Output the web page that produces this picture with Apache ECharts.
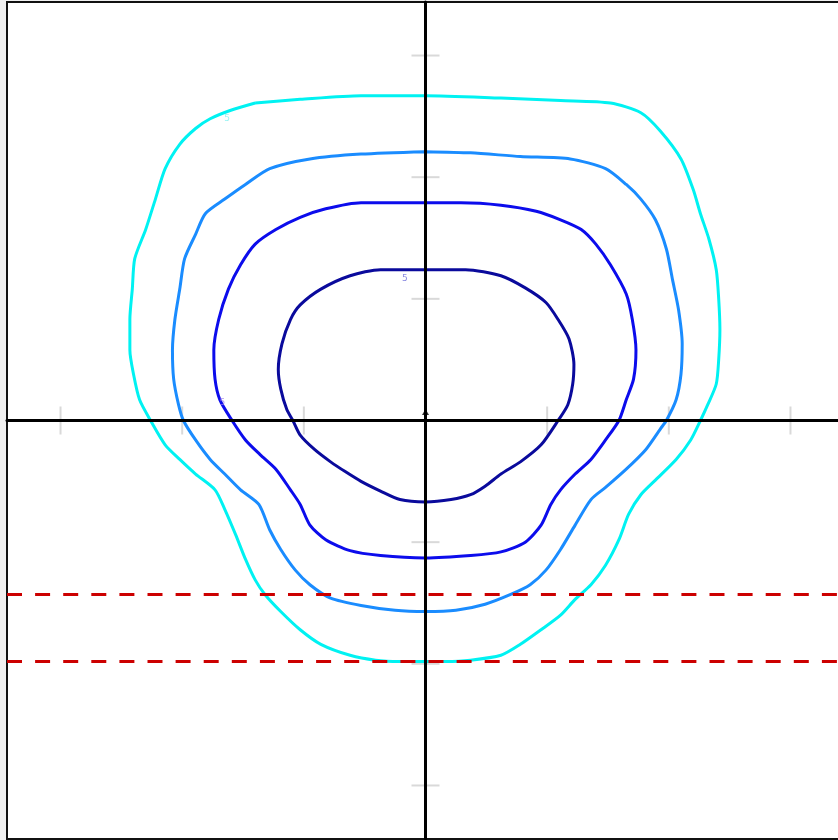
<!DOCTYPE html>
<html>
<head>
<meta charset="utf-8">
<script src="https://cdn.jsdelivr.net/npm/echarts@6/dist/echarts.min.js"></script>
<style>
  html, body { margin: 0; padding: 0; background: #f0f0f0; overflow: hidden; }
  #chart { width: 852px; height: 840px; }
</style>
</head>
<body>
<div id="chart"></div>
<script>
// Contour levels, outermost first: [x, y] points around each closed curve
const levelOuter = [
  [-1.40, 2.61], [-1.03, 2.64], [-0.53, 2.67], [0, 2.67], [0.62, 2.65], [1.11, 2.63],
  [1.52, 2.61], [1.77, 2.53], [1.93, 2.38], [2.10, 2.15], [2.20, 1.90], [2.26, 1.70],
  [2.33, 1.49], [2.39, 1.24], [2.41, 1.00], [2.42, 0.75], [2.41, 0.50], [2.39, 0.30],
  [2.32, 0.13], [2.26, 0], [2.18, -0.16], [2.06, -0.32], [1.89, -0.49], [1.77, -0.61],
  [1.67, -0.77], [1.59, -0.98], [1.48, -1.19], [1.36, -1.35], [1.23, -1.47], [1.11, -1.60],
  [0.95, -1.72], [0.78, -1.84], [0.62, -1.93], [0.37, -1.97], [0.16, -1.98], [0, -1.98],
  [-0.21, -1.98], [-0.41, -1.97], [-0.62, -1.93], [-0.86, -1.84], [-1.03, -1.72], [-1.19, -1.57],
  [-1.32, -1.43], [-1.40, -1.31], [-1.48, -1.14], [-1.56, -0.94], [-1.65, -0.73], [-1.73, -0.57],
  [-1.89, -0.44], [-2.02, -0.32], [-2.14, -0.20], [-2.26, 0], [-2.35, 0.17], [-2.40, 0.38],
  [-2.43, 0.58], [-2.43, 0.83], [-2.41, 1.08], [-2.39, 1.33], [-2.30, 1.57], [-2.22, 1.82],
  [-2.14, 2.07], [-2.02, 2.27], [-1.89, 2.40], [-1.77, 2.48], [-1.60, 2.55], [-1.40, 2.61]
];
const levelSecond = [
  [0, 2.21], [0.37, 2.20], [0.78, 2.17], [1.19, 2.15], [1.48, 2.07], [1.65, 1.94],
  [1.77, 1.82], [1.89, 1.65], [1.98, 1.41], [2.03, 1.16], [2.08, 0.91], [2.11, 0.63],
  [2.10, 0.38], [2.06, 0.17], [1.98, 0], [1.93, -0.07], [1.81, -0.24], [1.65, -0.40],
  [1.48, -0.55], [1.36, -0.65], [1.23, -0.86], [1.11, -1.06], [0.99, -1.23], [0.86, -1.35],
  [0.70, -1.43], [0.49, -1.51], [0.25, -1.56], [0, -1.57], [-0.25, -1.56], [-0.53, -1.52],
  [-0.78, -1.46], [-0.95, -1.35], [-1.07, -1.23], [-1.19, -1.06], [-1.28, -0.90], [-1.37, -0.69],
  [-1.52, -0.57], [-1.65, -0.44], [-1.77, -0.32], [-1.89, -0.16], [-1.99, 0], [-2.03, 0.13],
  [-2.07, 0.34], [-2.08, 0.58], [-2.06, 0.83], [-2.02, 1.08], [-1.98, 1.33], [-1.89, 1.53],
  [-1.81, 1.70], [-1.65, 1.82], [-1.48, 1.94], [-1.28, 2.07], [-0.95, 2.15], [-0.53, 2.19],
  [0, 2.21]
];
const levelThird = [
  [0, 1.79], [0.29, 1.79], [0.62, 1.77], [0.91, 1.72], [1.11, 1.65], [1.28, 1.57],
  [1.40, 1.45], [1.52, 1.28], [1.65, 1.04], [1.70, 0.83], [1.73, 0.58], [1.71, 0.34],
  [1.65, 0.17], [1.59, 0], [1.48, -0.16], [1.36, -0.32], [1.23, -0.44], [1.11, -0.57],
  [1.03, -0.69], [0.95, -0.86], [0.82, -1.00], [0.62, -1.08], [0.37, -1.11], [0, -1.13],
  [-0.37, -1.11], [-0.62, -1.07], [-0.82, -0.98], [-0.95, -0.86], [-1.03, -0.69], [-1.11, -0.57],
  [-1.23, -0.40], [-1.36, -0.28], [-1.48, -0.16], [-1.59, 0], [-1.69, 0.17], [-1.73, 0.34],
  [-1.74, 0.58], [-1.70, 0.83], [-1.62, 1.08], [-1.52, 1.28], [-1.40, 1.45], [-1.23, 1.57],
  [-1.03, 1.67], [-0.82, 1.74], [-0.53, 1.79], [0, 1.79]
];
const levelInner = [
  [0, 1.24], [0.33, 1.24], [0.62, 1.19], [0.82, 1.09], [0.99, 0.97], [1.09, 0.83],
  [1.18, 0.67], [1.22, 0.46], [1.21, 0.30], [1.17, 0.13], [1.09, 0], [0.95, -0.20],
  [0.78, -0.34], [0.62, -0.44], [0.49, -0.54], [0.37, -0.61], [0.21, -0.65], [0, -0.67],
  [-0.21, -0.65], [-0.37, -0.58], [-0.53, -0.50], [-0.66, -0.42], [-0.78, -0.34], [-0.91, -0.24],
  [-1.03, -0.12], [-1.09, 0], [-1.14, 0.09], [-1.19, 0.26], [-1.21, 0.42], [-1.18, 0.63],
  [-1.11, 0.83], [-1.03, 0.95], [-0.86, 1.08], [-0.62, 1.19], [-0.37, 1.24], [0, 1.24]
];
const levelColors = ['#00f2f2', '#1a8cff', '#0c0cec', '#0a0a9c'];

// Horizontal reference levels (dashed)
const refLevels = [-1.43, -1.98];

// Axis extent and tick positions
const axisMin = -3.44;
const axisMax = 3.44;
const tickValues = [-3, -2, -1, 1, 2, 3];

// Small contour labels
const contourLabels = [
  { pos: [-1.63, 2.48], text: '5', color: '#7ff0f0' },
  { pos: [-0.17, 1.17], text: '5', color: '#6a6ad8' },
  { pos: [-1.67, 0.15], text: '5', color: '#9a7ae8' }
];

const chart = echarts.init(document.getElementById('chart'));

const levelSeries = [levelOuter, levelSecond, levelThird, levelInner].map((pts, i) => ({
  type: 'line',
  data: pts,
  smooth: 0.25,
  showSymbol: false,
  silent: true,
  z: 3,
  lineStyle: { color: levelColors[i], width: 3 }
}));

const refSeries = refLevels.map(v => ({
  type: 'line',
  data: [[axisMin, v], [axisMax, v]],
  showSymbol: false,
  silent: true,
  z: 4,
  lineStyle: { color: '#cc0000', width: 3, type: [15, 13.1], dashOffset: 0 }
}));

const tickSeries = [
  {
    type: 'scatter',
    data: tickValues.map(t => [t, 0]),
    symbol: 'rect',
    symbolSize: [2, 28],
    itemStyle: { color: '#cfcfcf' },
    silent: true,
    z: 1
  },
  {
    type: 'scatter',
    data: tickValues.map(t => [0, t]),
    symbol: 'rect',
    symbolSize: [28, 2],
    itemStyle: { color: '#cfcfcf' },
    silent: true,
    z: 1
  }
];

const labelSeries = contourLabels.map(l => ({
  type: 'scatter',
  data: [l.pos],
  symbolSize: 0,
  silent: true,
  z: 5,
  label: {
    show: true,
    position: 'inside',
    formatter: l.text,
    color: l.color,
    fontSize: 9,
    fontFamily: 'DejaVu Sans'
  }
}));

const originMark = {
  type: 'scatter',
  data: [[0, 0.07]],
  symbol: 'triangle',
  symbolSize: [7, 6],
  itemStyle: { color: '#000' },
  silent: true,
  z: 6
};

chart.setOption({
  backgroundColor: '#f0f0f0',
  animation: false,
  grid: {
    show: true,
    left: 7,
    top: 2,
    width: 837,
    height: 837,
    backgroundColor: '#ffffff',
    borderColor: '#111',
    borderWidth: 2
  },
  xAxis: {
    type: 'value',
    min: axisMin,
    max: axisMax,
    z: 10,
    axisLine: { show: true, onZero: true, lineStyle: { color: '#000', width: 3 } },
    axisTick: { show: false },
    axisLabel: { show: false },
    splitLine: { show: false }
  },
  yAxis: {
    type: 'value',
    min: axisMin,
    max: axisMax,
    z: 10,
    axisLine: { show: true, onZero: true, lineStyle: { color: '#000', width: 3 } },
    axisTick: { show: false },
    axisLabel: { show: false },
    splitLine: { show: false }
  },
  series: [...tickSeries, ...levelSeries, ...refSeries, ...labelSeries, originMark]
});
</script>
</body>
</html>
